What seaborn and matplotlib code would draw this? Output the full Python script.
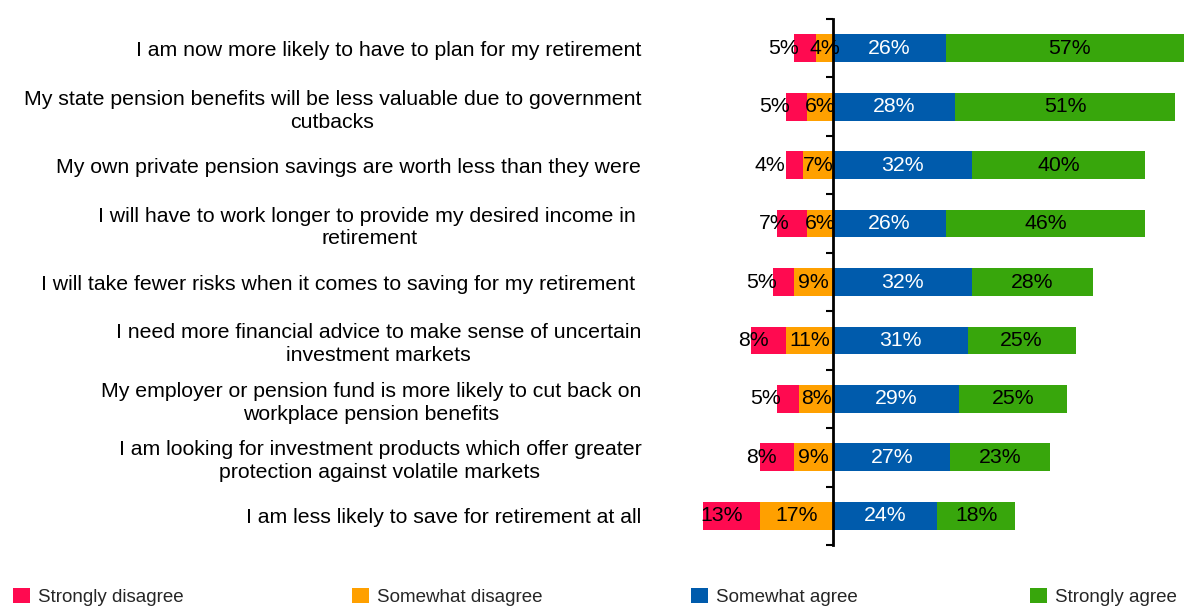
import matplotlib
matplotlib.use("Agg")
import matplotlib.pyplot as plt
from matplotlib.patches import Patch
import seaborn as sns
import pandas as pd
import numpy as np

categories = [
    "I am now more likely to have to plan for my retirement",
    "My state pension benefits will be less valuable due to government\ncutbacks",
    "My own private pension savings are worth less than they were",
    "I will have to work longer to provide my desired income in \nretirement",
    "I will take fewer risks when it comes to saving for my retirement ",
    "I need more financial advice to make sense of uncertain\ninvestment markets",
    "My employer or pension fund is more likely to cut back on\nworkplace pension benefits",
    "I am looking for investment products which offer greater\nprotection against volatile markets",
    "I am less likely to save for retirement at all",
]
strongly_disagree = [5, 5, 4, 7, 5, 8, 5, 8, 13]
somewhat_disagree = [4, 6, 7, 6, 9, 11, 8, 9, 17]
somewhat_agree = [26, 28, 32, 26, 32, 31, 29, 27, 24]
strongly_agree = [57, 51, 40, 46, 28, 25, 25, 23, 18]
series_names = ["Strongly disagree", "Somewhat disagree", "Somewhat agree", "Strongly agree"]
colors = ["#FF0A50", "#FFA000", "#005BAC", "#38A60C"]

sns.set_theme(style="white")
plt.rcParams["font.family"] = ["Liberation Sans", "DejaVu Sans"]

df = pd.DataFrame({
    "cat": categories,
    "sd": strongly_disagree,
    "swd": somewhat_disagree,
    "swa": somewhat_agree,
    "sa": strongly_agree,
})
df["neg_outer"] = -(df["sd"] + df["swd"])
df["neg_inner"] = -df["swd"]
df["pos_outer"] = df["swa"] + df["sa"]
df["pos_inner"] = df["swa"]

W, H = 1184, 606
fig = plt.figure(figsize=(W / 100, H / 100), dpi=100)
ax = fig.add_axes([690 / W, (H - 545) / H, (W - 690) / W, (545 - 19) / H])

bw = 0.474
for col, c in [("pos_outer", colors[3]), ("pos_inner", colors[2]),
               ("neg_outer", colors[0]), ("neg_inner", colors[1])]:
    sns.barplot(data=df, x=col, y="cat", order=categories, color=c,
                width=bw, linewidth=0, ax=ax, orient="h", saturation=1)

ax.set_xlim(-33.1, 81.0)
ax.set_ylim(len(categories) - 0.5, -0.5)
ax.set_xlabel("")
ax.set_ylabel("")
ax.set_xticks([])

for s in ["top", "right", "bottom"]:
    ax.spines[s].set_visible(False)
ax.spines["left"].set_position(("data", 0))
ax.spines["left"].set_linewidth(2.0)
ax.spines["left"].set_color("black")
ax.spines["left"].set_zorder(5)

ax.set_yticks(range(len(categories)))
ax.set_yticklabels(categories, fontsize=15.3, color="black")
for t in ax.get_yticklabels():
    t.set_multialignment("center")
    t.set_linespacing(1.26)
ax.set_yticks(np.arange(-0.5, len(categories), 1.0), minor=True)
ax.tick_params(axis="y", which="major", length=0, pad=(833 - 641) * 0.72)
ax.tick_params(axis="y", which="minor", left=True, length=5, width=1.5, color="black")

fs = 15.3
for i in range(len(categories)):
    sd, swd, swa, sa = strongly_disagree[i], somewhat_disagree[i], somewhat_agree[i], strongly_agree[i]
    ax.text(-swd - 4.0, i, f"{sd}%", ha="right", va="center", fontsize=fs, color="black", zorder=6)
    ax.text(-swd / 2, i, f"{swd}%", ha="center", va="center", fontsize=fs, color="black", zorder=6)
    ax.text(swa / 2, i, f"{swa}%", ha="center", va="center", fontsize=fs, color="white", zorder=6)
    ax.text(swa + sa / 2, i, f"{sa}%", ha="center", va="center", fontsize=fs, color="black", zorder=6)

legend_x = [13, 352, 691, 1030]
for name, c, lx in zip(series_names, colors, legend_x):
    leg = fig.legend(handles=[Patch(facecolor=c, edgecolor="none", label=name)],
                     loc="center left", bbox_to_anchor=(lx / W, (H - 597) / H),
                     frameon=False, fontsize=13.5, handlelength=0.9, handleheight=0.9,
                     handletextpad=0.45, borderpad=0, borderaxespad=0)

fig.savefig("out.png", dpi=100)
